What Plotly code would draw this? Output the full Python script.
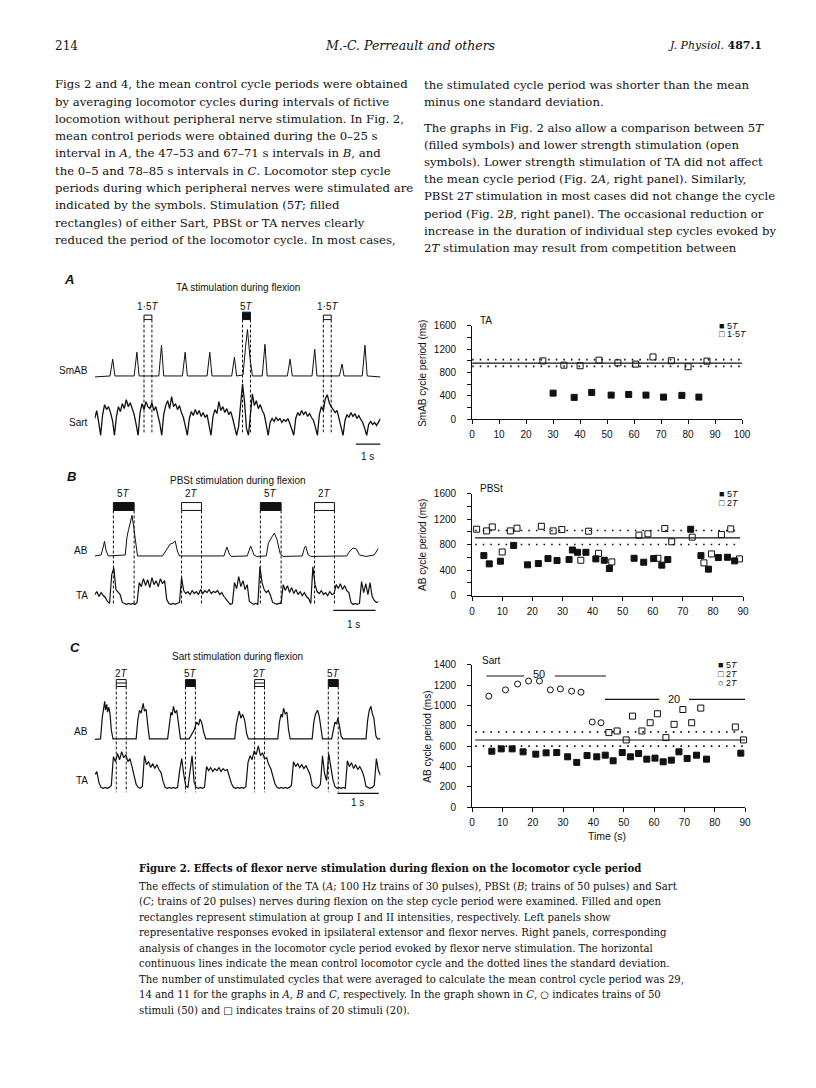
import numpy as np
import plotly.graph_objects as go

W, H = 816, 1088
SANS = 'Liberation Sans, Arial, sans-serif'
SERIF = 'DejaVu Serif, serif'
INK = '#111111'

# ---------------- right panels: cycle periods (ms) vs time (s) ----------------
# A: TA stimulation
ta_5t_x = [30, 37.8, 44.3, 51.5, 58, 64.4, 70.9, 77.7, 84]
ta_5t_y = [449, 376, 460, 415, 426, 415, 381, 410, 381]
ta_15t_x = [26.2, 34, 40, 47, 54, 60.6, 67, 73.8, 80, 87]
ta_15t_y = [998, 925, 915, 1010, 965, 943, 1065, 1000, 898, 993]
ta_mean, ta_hi, ta_lo = 960, 1020, 905
ta_span = [0, 100]

# B: PBSt stimulation
pb_5t_x = [3.9, 5.7, 9.4, 13.8, 18.4, 22, 25.2, 28.2, 32.2, 33.3, 35, 37.8, 41.1,
           43.9, 45.6, 53.8, 57, 60.3, 63, 65, 72.6, 76, 78.5, 81.8, 84.8, 87.2]
pb_5t_y = [627, 497, 539, 787, 482, 502, 580, 549, 565, 715, 679, 679, 575,
           554, 425, 585, 523, 580, 477, 565, 1041, 627, 414, 596, 601, 544]
pb_2t_x = [1.5, 4.8, 6.7, 10, 12.7, 14.9, 23, 26.9, 29.8, 36.1, 38.7, 42, 46.4,
           55.4, 58.4, 61.7, 64, 66.3, 73.1, 77, 79.5, 82.8, 85.9, 88.8]
pb_2t_y = [1041, 1015, 1077, 684, 1015, 1057, 1088, 1015, 1036, 554, 1010, 663, 528,
           948, 969, 585, 1052, 844, 917, 513, 653, 958, 1046, 575]
pb_mean, pb_hi, pb_lo = 906, 1022, 802
pb_span = [1, 89]

# C: Sart stimulation
sa_5t_x = [6.5, 9.6, 13.2, 16.8, 21, 24.4, 27.9, 31.5, 34.5, 37.9, 41.1, 43.9, 46.5,
           49.5, 52.2, 54.9, 57.6, 60.3, 63, 65.7, 68.2, 70.9, 74, 77.3, 88.6]
sa_5t_y = [550, 573, 573, 544, 521, 534, 537, 495, 440, 508, 495, 511, 456,
           537, 495, 527, 472, 482, 446, 462, 544, 479, 511, 472, 531]
sa_2t20_x = [45.1, 47.8, 50.8, 52.9, 56, 58.7, 61.1, 63.9, 66.6, 69.5, 72.4, 75.4, 86.8, 89.5]
sa_2t20_y = [733, 749, 661, 895, 749, 830, 918, 684, 814, 960, 830, 974, 788, 661]
sa_2t50_x = [5.5, 11, 15, 18.6, 22.2, 25.8, 29.1, 32.8, 35.9, 39.6, 42.5]
sa_2t50_y = [1091, 1153, 1211, 1240, 1240, 1153, 1162, 1140, 1130, 837, 830]
sa_mean, sa_hi, sa_lo = 660, 740, 600
sa_span = [1, 90]
train50_bars = [[4.7, 17.2], [27.3, 44.1]]
train50_level = 1290
train20_bars = [[43.8, 61.7], [71.5, 90]]
train20_level = 1060

# ---------------- left panels: nerve recordings (time s, amplitude px) ----------------
# A
smab_t = [0, 0.62, 0.73, 0.82, 1.6, 1.71, 1.8, 2.6, 2.71, 2.8, 3.56, 3.67, 3.76,
          4.56, 4.67, 4.76, 5.56, 5.67, 5.76, 6.02, 6.12, 6.2, 6.3, 6.4, 6.8, 6.91, 7.0,
          7.82, 7.93, 8.02, 8.82, 8.93, 9.02, 9.93, 10.04, 10.12, 10.86, 10.97, 11.06, 11.6]
smab_v = [0, 1, 18, 1, 1, 25, 1, 1, 32, 1, 1, 25, 1, 1, 25, 1, 1, 20, 1, 2, 30, 48, 20, 1,
          1, 33, 1, 1, 18, 1, 1, 28, 1, 1, 13, 1, 1, 32, 1, 0]
sart_dt = 0.08
sart_v = [18, 26, 14, 1,
          22, 32, 27, 30, 24, 16, 1,
          20, 30, 25, 33, 28, 37, 30, 34, 27, 22, 12, 1,
          24, 33, 27, 35, 30, 28, 34, 26, 30, 22, 13, 1,
          22, 31, 36, 28, 40, 30, 33, 27, 31, 24, 19, 10, 1,
          18, 25, 21, 27, 22, 26, 20, 24, 19, 22, 11, 1,
          20, 27, 23, 35, 26, 30, 24, 28, 22, 25, 18, 9, 1,
          10, 30, 53, 35, 8, 1,
          26, 43, 31, 36, 28, 32, 26, 22, 12, 1,
          14, 18, 15, 19, 16, 18, 14, 17, 15, 18, 13, 8, 1,
          18, 24, 21, 26, 22, 25, 20, 23, 19, 16, 9, 1,
          22, 30, 26, 38, 42, 34, 30, 27, 24, 26, 18, 10, 1,
          16, 22, 19, 24, 20, 23, 18, 21, 17, 14, 8, 1,
          12, 15, 12, 14, 11, 15, 18]
stim_a = [[2.0, 2.32], [6.0, 6.32], [9.28, 9.6]]
stim_a_lab = ['1·5<i>T</i>', '5<i>T</i>', '1·5<i>T</i>']
stim_a_fill = [False, True, False]

# B
ab_b_t = [0, 0.15, 0.2, 0.23, 0.27, 0.32, 0.72, 0.76, 0.8, 0.84, 0.88, 0.92, 0.97, 1.01,
          1.6, 1.72, 1.78, 1.85, 1.9, 1.95, 2.0, 3.05, 3.1, 3.12, 3.18, 3.22, 3.6, 3.66,
          3.68, 3.76, 3.82, 4.05, 4.1, 4.18, 4.24, 4.3, 4.38, 4.45, 4.9, 4.95, 4.98, 5.04,
          5.1, 5.95, 6.02, 6.1, 6.18, 6.25, 6.4, 6.6, 6.7]
ab_b_v = [1, 2, 10, 15.7, 6, 1, 2, 20, 28, 36, 42, 30, 12, 1,
          1, 10, 13, 14, 16, 6, 1, 1, 8, 10, 3, 0.5, 1, 10,
          11, 2, 0.5, 1, 14, 20, 24, 18, 3, 0.5, 1, 9, 11, 2,
          0.5, 1, 6, 9, 8, 2, 0.5, 2, 9]
ta_b_dt = 0.05
ta_b_v = [10, 13, 8, 12, 9, 7, 3, 1, 30, 37, 15, 13, 10, 2, 1, 0, 1, 0, 1, 0,
          2, 22, 18, 26, 19, 25, 17, 27, 20, 24, 18, 26, 21, 24, 5, 1, 0, 1, 0, 1,
          2, 27, 14, 11, 13, 10, 14, 11, 13, 10, 15, 11, 14, 12, 15, 11, 13, 12, 14, 10,
          12, 8, 5, 2, 0, 1, 22, 16, 28, 18, 24, 15, 20, 3, 1, 0, 1, 0, 38, 22,
          15, 12, 14, 9, 2, 1, 0, 1, 1, 20, 14, 19, 12, 17, 11, 15, 10, 13, 9, 12,
          8, 6, 1, 38, 20, 13, 11, 14, 10, 12, 9, 13, 10, 11, 20, 16, 21, 15, 19, 14,
          12, 2, 0, 1, 0, 1, 23, 12, 21, 10, 22, 8, 4, 2, 3]
stim_b = [[0.44, 0.93], [2.05, 2.52], [3.91, 4.40], [5.19, 5.66]]
stim_b_lab = ['5<i>T</i>', '2<i>T</i>', '5<i>T</i>', '2<i>T</i>']
stim_b_fill = [True, False, True, False]

# C
ab_c_t = [0, 0.14, 0.18, 0.21, 0.24, 0.26, 0.29, 0.31, 0.34, 0.37, 0.40, 0.44,
          1.0, 1.04, 1.08, 1.12, 1.17, 1.2, 1.24, 1.28, 1.32,
          1.76, 1.8, 1.84, 1.87, 1.9, 1.94, 1.98, 2.03, 2.07,
          2.28, 2.34, 2.4, 2.46, 2.51, 2.54, 2.58, 2.63, 2.68,
          3.38, 3.42, 3.46, 3.49, 3.53, 3.57, 3.62, 3.67, 3.71,
          4.42, 4.46, 4.5, 4.53, 4.56, 4.6, 4.64, 4.68, 4.72,
          5.25, 5.29, 5.33, 5.38, 5.42, 5.46, 5.5,
          5.72, 5.76, 5.8, 5.84, 5.87, 5.91, 5.95, 5.99,
          6.55, 6.59, 6.63, 6.67, 6.7, 6.74, 6.79, 6.83, 6.9]
ab_c_v = [0.5, 1, 22, 34, 39, 30, 36, 28, 33, 26, 10, 1,
          1, 20, 30, 27, 37, 29, 31, 15, 1,
          1, 18, 28, 25, 34, 27, 30, 14, 1,
          1, 6, 10, 18, 15, 21, 18, 8, 1,
          1, 16, 24, 29, 22, 26, 20, 6, 1,
          1, 18, 26, 23, 32, 26, 28, 10, 1,
          1, 18, 26, 30, 24, 12, 1,
          1, 12, 18, 16, 22, 14, 4, 1,
          1, 20, 30, 34, 27, 22, 4, 1, 1]
ta_c_dt = 0.05
ta_c_v = [14, 17, 6, 1, 0, 1, 0, 1, 3, 32, 27, 35, 29, 37, 31, 34, 27, 30, 22, 12,
          4, 1, 0, 2, 33, 24, 27, 21, 25, 20, 24, 19, 16, 7, 1, 0, 1, 0, 1, 0,
          1, 18, 30, 14, 2, 1, 20, 33, 6, 1, 0, 1, 0, 1, 22, 18, 21, 17, 20, 18,
          21, 17, 20, 18, 19, 12, 5, 1, 0, 1, 0, 1, 0, 2, 26, 33, 29, 38, 34, 43,
          33, 36, 30, 31, 24, 20, 12, 5, 1, 0, 1, 0, 1, 0, 1, 3, 27, 22, 25, 21,
          24, 20, 23, 19, 14, 3, 1, 0, 1, 4, 33, 15, 8, 35, 22, 9, 2, 0, 1, 0,
          1, 0, 28, 22, 26, 20, 24, 19, 22, 18, 12, 2, 1, 0, 1, 3, 30, 18, 13]
stim_c = [[0.52, 0.76], [2.19, 2.43], [3.86, 4.10], [5.64, 5.88]]
stim_c_lab = ['2<i>T</i>', '5<i>T</i>', '2<i>T</i>', '5<i>T</i>']
stim_c_fill = [False, True, False, True]

# ---------------- page text ----------------
left_col = [
    "Figs 2 and 4, the mean control cycle periods were obtained",
    "by averaging locomotor cycles during intervals of fictive",
    "locomotion without peripheral nerve stimulation. In Fig. 2,",
    "mean control periods were obtained during the 0–25 s",
    "interval in <i>A</i>, the 47–53 and 67–71 s intervals in <i>B</i>, and",
    "the 0–5 and 78–85 s intervals in <i>C</i>. Locomotor step cycle",
    "periods during which peripheral nerves were stimulated are",
    "indicated by the symbols. Stimulation (5<i>T</i>; filled",
    "rectangles) of either Sart, PBSt or TA nerves clearly",
    "reduced the period of the locomotor cycle. In most cases,",
]
right_col = [
    "the stimulated cycle period was shorter than the mean",
    "minus one standard deviation.",
    "The graphs in Fig. 2 also allow a comparison between 5<i>T</i>",
    "(filled symbols) and lower strength stimulation (open",
    "symbols). Lower strength stimulation of TA did not affect",
    "the mean cycle period (Fig. 2<i>A</i>, right panel). Similarly,",
    "PBSt 2<i>T</i> stimulation in most cases did not change the cycle",
    "period (Fig. 2<i>B</i>, right panel). The occasional reduction or",
    "increase in the duration of individual step cycles evoked by",
    "2<i>T</i> stimulation may result from competition between",
]
caption_title = "Figure 2. Effects of flexor nerve stimulation during flexion on the locomotor cycle period"
caption = [
    "The effects of stimulation of the TA (<i>A</i>; 100 Hz trains of 30 pulses), PBSt (<i>B</i>; trains of 50 pulses) and Sart",
    "(<i>C</i>; trains of 20 pulses) nerves during flexion on the step cycle period were examined. Filled and open",
    "rectangles represent stimulation at group I and II intensities, respectively. Left panels show",
    "representative responses evoked in ipsilateral extensor and flexor nerves. Right panels, corresponding",
    "analysis of changes in the locomotor cycle period evoked by flexor nerve stimulation. The horizontal",
    "continuous lines indicate the mean control locomotor cycle and the dotted lines the standard deviation.",
    "The number of unstimulated cycles that were averaged to calculate the mean control cycle period was 29,",
    "14 and 11 for the graphs in <i>A</i>, <i>B</i> and <i>C</i>, respectively. In the graph shown in <i>C</i>, ○ indicates trains of 50",
    "stimuli (50) and □ indicates trains of 20 stimuli (20).",
]


def yd(top, bottom):
    return [1 - bottom / H, 1 - top / H]


fig = go.Figure()
ann = []
shapes = []


def text(x, y, s, size=10, font=SANS, anchor='left', color=INK, angle=0):
    ann.append(dict(x=x / W, y=1 - y / H, xref='paper', yref='paper', text=s,
                    showarrow=False, xanchor=anchor, yanchor='middle', textangle=angle,
                    font=dict(family=font, size=size, color=color)))


def hline(xs, level, n, dash=None):
    fig.add_trace(go.Scatter(x=xs, y=[level] * len(xs), mode='lines', xaxis='x' + n, yaxis='y' + n,
                             line=dict(color=INK, width=1.1 if dash is None else 1.6, dash=dash),
                             hoverinfo='skip', showlegend=False))


def points(xs, ys, n, symbol):
    fig.add_trace(go.Scatter(x=xs, y=ys, mode='markers', xaxis='x' + n, yaxis='y' + n,
                             marker=dict(symbol=symbol, size=6, color=INK,
                                         line=dict(color=INK, width=1)),
                             cliponaxis=False, showlegend=False))


# scatter A
hline(ta_span, ta_mean, '')
hline(ta_span, ta_hi, '', '1.6px,6px')
hline(ta_span, ta_lo, '', '1.6px,6px')
points(ta_15t_x, ta_15t_y, '', 'square-open')
points(ta_5t_x, ta_5t_y, '', 'square')

# scatter B
hline(pb_span, pb_mean, '2')
hline(pb_span, pb_hi, '2', '1.6px,6px')
hline(pb_span, pb_lo, '2', '1.6px,6px')
points(pb_2t_x, pb_2t_y, '2', 'square-open')
points(pb_5t_x, pb_5t_y, '2', 'square')

# scatter C
hline(sa_span, sa_mean, '3')
hline(sa_span, sa_hi, '3', '1.6px,6px')
hline(sa_span, sa_lo, '3', '1.6px,6px')
for seg in train50_bars:
    hline(seg, train50_level, '3')
for seg in train20_bars:
    hline(seg, train20_level, '3')
points(sa_2t50_x, sa_2t50_y, '3', 'circle-open')
points(sa_2t20_x, sa_2t20_y, '3', 'square-open')
points(sa_5t_x, sa_5t_y, '3', 'square')
ann.append(dict(x=21.9, y=train50_level, xref='x3', yref='y3', text='50', showarrow=False,
                yshift=2, font=dict(family=SANS, size=11, color=INK)))
ann.append(dict(x=66.7, y=train20_level, xref='x3', yref='y3', text='20', showarrow=False,
                font=dict(family=SANS, size=11, color=INK)))


def trace(ts, vs, n, offset, width=1.0):
    fig.add_trace(go.Scatter(x=ts, y=[v + offset for v in vs], mode='lines', xaxis='x' + n,
                             yaxis='y' + n, line=dict(color=INK, width=width),
                             hoverinfo='skip', showlegend=False))


def stim(n, spans, labels, fills, y0, y1, ybot, lab_y, open_top=None, midline=False):
    for (t0, t1), lab, fill in zip(spans, labels, fills):
        top = y1 if fill or open_top is None else open_top
        for t in (t0, t1):
            shapes.append(dict(type='line', xref='x' + n, yref='y' + n, x0=t, x1=t, y0=y0, y1=ybot,
                               line=dict(color=INK, width=1, dash='3px,2px')))
        shapes.append(dict(type='rect', xref='x' + n, yref='y' + n, x0=t0, x1=t1, y0=y0, y1=top,
                           fillcolor=INK if fill else 'white', line=dict(color=INK, width=1)))
        if midline and not fill:
            shapes.append(dict(type='line', xref='x' + n, yref='y' + n, x0=t0, x1=t1,
                               y0=(y0 + top) / 2, y1=(y0 + top) / 2, line=dict(color=INK, width=1)))
        ann.append(dict(x=(t0 + t1) / 2, y=lab_y, xref='x' + n, yref='y' + n, text=lab,
                        showarrow=False, font=dict(family=SANS, size=10, color=INK)))


def scalebar(n, t0, t1, level):
    shapes.append(dict(type='line', xref='x' + n, yref='y' + n, x0=t0, x1=t1, y0=level, y1=level,
                       line=dict(color=INK, width=1.2)))


# left A (1 unit = 1 px, 0 at page y=432)
trace(smab_t, smab_v, '4', 65)
trace(list(np.arange(len(sart_v)) * sart_dt), sart_v, '4', 5, 1.3)
stim('4', stim_a, stim_a_lab, stim_a_fill, 123, 130.5, 9, 136, open_top=127.5)
scalebar('4', 10.6, 11.6, -3)

# left B (0 at page y=605)
trace(ab_b_t, ab_b_v, '5', 56)
trace(list(np.arange(len(ta_b_v)) * ta_b_dt), ta_b_v, '5', 8, 1.2)
stim('5', stim_b, stim_b_lab, stim_b_fill, 103, 111, 8, 120)
scalebar('5', 5.63, 6.63, 2)

# left C (0 at page y=795)
trace(ab_c_t, ab_c_v, '6', 61, 1.2)
trace(list(np.arange(len(ta_c_v)) * ta_c_dt), ta_c_v, '6', 12, 1.2)
stim('6', stim_c, stim_c_lab, stim_c_fill, 115, 122, 8, 128, midline=True)
scalebar('6', 5.86, 6.86, 7)

axis_font = dict(family=SANS, size=10, color=INK)


def sc_axes(left, right, top, bottom, xmax, ymax, ydt, labdt, anchor_x, anchor_y):
    xa = dict(domain=[left / W, right / W], range=[0, xmax], tickmode='linear', tick0=0, dtick=10,
              ticks='outside', ticklen=4, tickcolor=INK, showline=True, linecolor=INK, linewidth=1,
              showgrid=False, zeroline=False, tickfont=axis_font, anchor=anchor_y,
              ticklabelstandoff=2)
    ya = dict(domain=yd(top, bottom), range=[0, ymax], tickmode='linear', tick0=0, dtick=labdt,
              ticks='outside', ticklen=4, tickcolor=INK, showline=True, linecolor=INK, linewidth=1,
              showgrid=False, zeroline=False, tickfont=axis_font, anchor=anchor_x,
              ticklabelstandoff=9,
              minor=dict(dtick=ydt, ticks='outside', ticklen=4, tickcolor=INK, showgrid=False))
    return xa, ya


xa1, ya1 = sc_axes(468, 742, 315, 410, 100, 1600, 200, 400, 'x', 'y')
xa2, ya2 = sc_axes(468, 743, 485, 588, 90, 1600, 200, 400, 'x2', 'y2')
xa3, ya3 = sc_axes(468, 745, 658, 802, 90, 1400, 200, 200, 'x3', 'y3')


def hidden(dom, rng, anchor):
    return dict(domain=dom, range=rng, visible=False, anchor=anchor, fixedrange=True)


xa4 = hidden([85 / W, 375 / W], [0, 11.6], 'y4')
ya4 = hidden(yd(293, 450), [432 - 450, 432 - 293], 'x4')
xa5 = hidden([85 / W, 373 / W], [0, 6.7], 'y5')
ya5 = hidden(yd(478, 625), [605 - 625, 605 - 478], 'x5')
xa6 = hidden([85 / W, 375 / W], [0, 6.9], 'y6')
ya6 = hidden(yd(655, 805), [795 - 805, 795 - 655], 'x6')

# scatter panel labels
text(474, 310, 'TA', 10)
text(717, 315, '■ 5<i>T</i>', 9)
text(717, 324, '□ 1·5<i>T</i>', 9)
text(418, 363, 'SmAB cycle period (ms)', 10, anchor='center', angle=-90)

text(474, 480, 'PBSt', 10)
text(717, 485, '■ 5<i>T</i>', 9)
text(717, 494, '□ 2<i>T</i>', 9)
text(417, 537, 'AB cycle period (ms)', 10, anchor='center', angle=-90)

text(476, 654, 'Sart', 10)
text(716, 658, '■ 5<i>T</i>', 9)
text(716, 667, '□ 2<i>T</i>', 9)
text(716, 676, '○ 2<i>T</i>', 9)
text(423, 731, 'AB cycle period (ms)', 10, anchor='center', angle=-90)
text(605, 831, 'Time (s)', 10.5, anchor='center')

# left panel labels
text(52, 268, '<b><i>A</i></b>', 13)
text(230, 277, 'TA stimulation during flexion', 10, anchor='center')
text(80, 360, 'SmAB', 10, anchor='right')
text(80, 413, 'Sart', 10, anchor='right')
text(362, 447, '1 s', 10, anchor='center')

text(55, 468, '<b><i>B</i></b>', 13)
text(230, 472, 'PBSt stimulation during flexion', 10, anchor='center')
text(80, 542, 'AB', 10, anchor='right')
text(80, 588, 'TA', 10, anchor='right')
text(348, 617, '1 s', 10, anchor='center')

text(58, 641, '<b><i>C</i></b>', 13)
text(230, 650, 'Sart stimulation during flexion', 10, anchor='center')
text(80, 725, 'AB', 10, anchor='right')
text(80, 775, 'TA', 10, anchor='right')
text(352, 797, '1 s', 10, anchor='center')

# header and body
text(43, 32, '214', 12, SERIF)
text(405, 32, '<i>M.-C. Perreault and others</i>', 12.5, SERIF, anchor='center')
text(764, 32, '<i>J. Physiol.</i> <b>487.1</b>', 11, SERIF, anchor='right')
for i, s in enumerate(left_col):
    text(43, 71 + 17.5 * i, s, 11.7, SERIF)
right_y = [72, 89, 115, 132.5, 150, 167, 184.5, 202, 219, 236.5]
for y, s in zip(right_y, right_col):
    text(417, y, s, 11.7, SERIF)

text(128, 864, '<b>' + caption_title + '</b>', 10.1, SERIF)
for i, s in enumerate(caption):
    text(128, 882 + 15.7 * i, s, 10.1, SERIF)

fig.update_layout(width=W, height=H, margin=dict(l=0, r=0, t=0, b=0),
                  paper_bgcolor='white', plot_bgcolor='white', showlegend=False,
                  xaxis=xa1, yaxis=ya1, xaxis2=xa2, yaxis2=ya2, xaxis3=xa3, yaxis3=ya3,
                  xaxis4=xa4, yaxis4=ya4, xaxis5=xa5, yaxis5=ya5, xaxis6=xa6, yaxis6=ya6,
                  annotations=ann, shapes=shapes)

fig.write_html("out.html")
